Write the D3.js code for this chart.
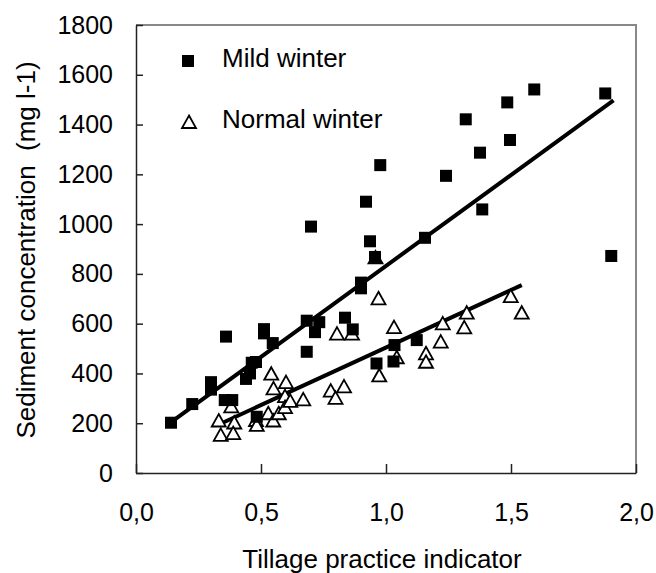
<!DOCTYPE html>
<html>
<head>
<meta charset="utf-8">
<script src="https://cdn.jsdelivr.net/npm/d3@7"></script>
<style>
  body { margin: 0; background: #fff; }
  text { font-family: "Liberation Sans", Arial, sans-serif; fill: #000; }
</style>
</head>
<body>
<div class="chart"></div>
<script>
// data: [tillage indicator, sediment mg/l]
var mildWinter = [
  [0.14, 202], [0.225, 277], [0.30, 365], [0.30, 335], [0.355, 293], [0.385, 293],
  [0.36, 548], [0.44, 378], [0.456, 400], [0.463, 443], [0.48, 446], [0.483, 226],
  [0.512, 578], [0.512, 561], [0.547, 522], [0.683, 612], [0.683, 487], [0.70, 990],
  [0.716, 566], [0.733, 606], [0.836, 624], [0.867, 577], [0.90, 765], [0.90, 742],
  [0.92, 1090], [0.936, 931], [0.956, 868], [0.962, 440], [0.977, 1237], [1.03, 448],
  [1.034, 514], [1.123, 534], [1.156, 945], [1.24, 1194], [1.319, 1421], [1.376, 1287],
  [1.385, 1059], [1.485, 1489], [1.496, 1338], [1.593, 1541], [1.877, 1525], [1.901, 872]
];
var normalWinter = [
  [0.331, 211], [0.339, 153], [0.381, 268], [0.393, 203], [0.389, 160], [0.48, 213],
  [0.483, 193], [0.541, 399], [0.55, 340], [0.529, 240], [0.549, 211], [0.571, 240],
  [0.60, 365], [0.596, 309], [0.596, 265], [0.617, 290], [0.669, 296], [0.779, 331],
  [0.798, 302], [0.832, 348], [0.804, 560], [0.864, 560], [0.958, 866], [0.97, 702],
  [0.973, 392], [1.032, 586], [1.043, 465], [1.16, 481], [1.16, 447], [1.219, 528],
  [1.227, 601], [1.313, 585], [1.323, 644], [1.499, 711], [1.543, 644]
];
// trend lines (end points)
var mildTrend = [[0.15, 211], [1.91, 1497]];
var normalTrend = [[0.336, 197], [1.543, 755]];

var xTicks = [0, 0.5, 1, 1.5, 2];
var yTicks = [0, 200, 400, 600, 800, 1000, 1200, 1400, 1600, 1800];
var seriesNames = ["Mild winter", "Normal winter"];

var svgWidth = 656;
var svgHeight = 573;
var margin = { top: 25, right: 20, bottom: 100, left: 136 };
var width = 500;
var height = 448;

var svg = d3.select(".chart")
  .append("svg")
  .attr("width", svgWidth)
  .attr("height", svgHeight);

var chartGroup = svg.append("g")
  .attr("transform", `translate(${margin.left}, ${margin.top})`);

var xScale = d3.scaleLinear().domain([0, 2]).range([0, width]);
var yScale = d3.scaleLinear().domain([0, 1800]).range([height, 0]);

var commaFmt = d3.formatLocale({ decimal: ",", thousands: ".", grouping: [3], currency: ["", ""] }).format(".1f");

// gray frame on top and right
chartGroup.append("path")
  .attr("d", `M0,0H${width}V${height}`)
  .attr("fill", "none")
  .attr("stroke", "#888")
  .attr("stroke-width", 2);

var bottomAxis = d3.axisBottom(xScale)
  .tickValues(xTicks)
  .tickSize(-9)
  .tickSizeOuter(0)
  .tickPadding(30)
  .tickFormat(commaFmt);

var leftAxis = d3.axisLeft(yScale)
  .tickValues(yTicks)
  .tickSize(-7)
  .tickSizeOuter(0)
  .tickPadding(23)
  .tickFormat(d3.format("d"));

var xg = chartGroup.append("g")
  .attr("transform", `translate(0, ${height})`)
  .call(bottomAxis);

var yg = chartGroup.append("g")
  .call(leftAxis);

[xg, yg].forEach(function(g) {
  g.selectAll("path, line").attr("stroke", "#222").attr("stroke-width", 1.5);
  g.selectAll("text")
    .style("font-family", "'Liberation Sans', Arial, sans-serif")
    .style("font-size", "25px")
    .attr("fill", "#000");
});

// trend lines
var line = d3.line().x(d => xScale(d[0])).y(d => yScale(d[1]));
[mildTrend, normalTrend].forEach(function(t) {
  chartGroup.append("path")
    .attr("d", line(t))
    .attr("fill", "none")
    .attr("stroke", "#000")
    .attr("stroke-width", 4);
});

var triPath = "M0,-6.5L7,6L-7,6Z";

// normal winter triangles
chartGroup.selectAll(".tri")
  .data(normalWinter)
  .enter()
  .append("path")
  .attr("class", "tri")
  .attr("d", triPath)
  .attr("transform", d => `translate(${xScale(d[0])}, ${yScale(d[1])})`)
  .attr("fill", "#fff")
  .attr("stroke", "#000")
  .attr("stroke-width", 1.8);

// mild winter squares
chartGroup.selectAll(".sq")
  .data(mildWinter)
  .enter()
  .append("rect")
  .attr("class", "sq")
  .attr("x", d => xScale(d[0]) - 6)
  .attr("y", d => yScale(d[1]) - 6)
  .attr("width", 12)
  .attr("height", 12)
  .attr("fill", "#000");

// legend
svg.append("rect")
  .attr("x", 182).attr("y", 55).attr("width", 12).attr("height", 12)
  .attr("fill", "#000");
svg.append("path")
  .attr("d", triPath)
  .attr("transform", "translate(189, 122)")
  .attr("fill", "#fff")
  .attr("stroke", "#000")
  .attr("stroke-width", 1.8);
svg.selectAll(".legText")
  .data(seriesNames)
  .enter()
  .append("text")
  .attr("class", "legText")
  .attr("x", 222)
  .attr("y", (d, i) => 67 + i * 61)
  .style("font-size", "26px")
  .text(d => d);

// axis titles
svg.append("text")
  .attr("x", 382)
  .attr("y", 568)
  .attr("text-anchor", "middle")
  .style("font-size", "26px")
  .text("Tillage practice indicator");

svg.append("text")
  .attr("transform", "translate(35, 250) rotate(-90)")
  .attr("text-anchor", "middle")
  .style("font-size", "26px")
  .style("white-space", "pre")
  .text("Sediment concentration  (mg l-1)");
</script>
</body>
</html>
